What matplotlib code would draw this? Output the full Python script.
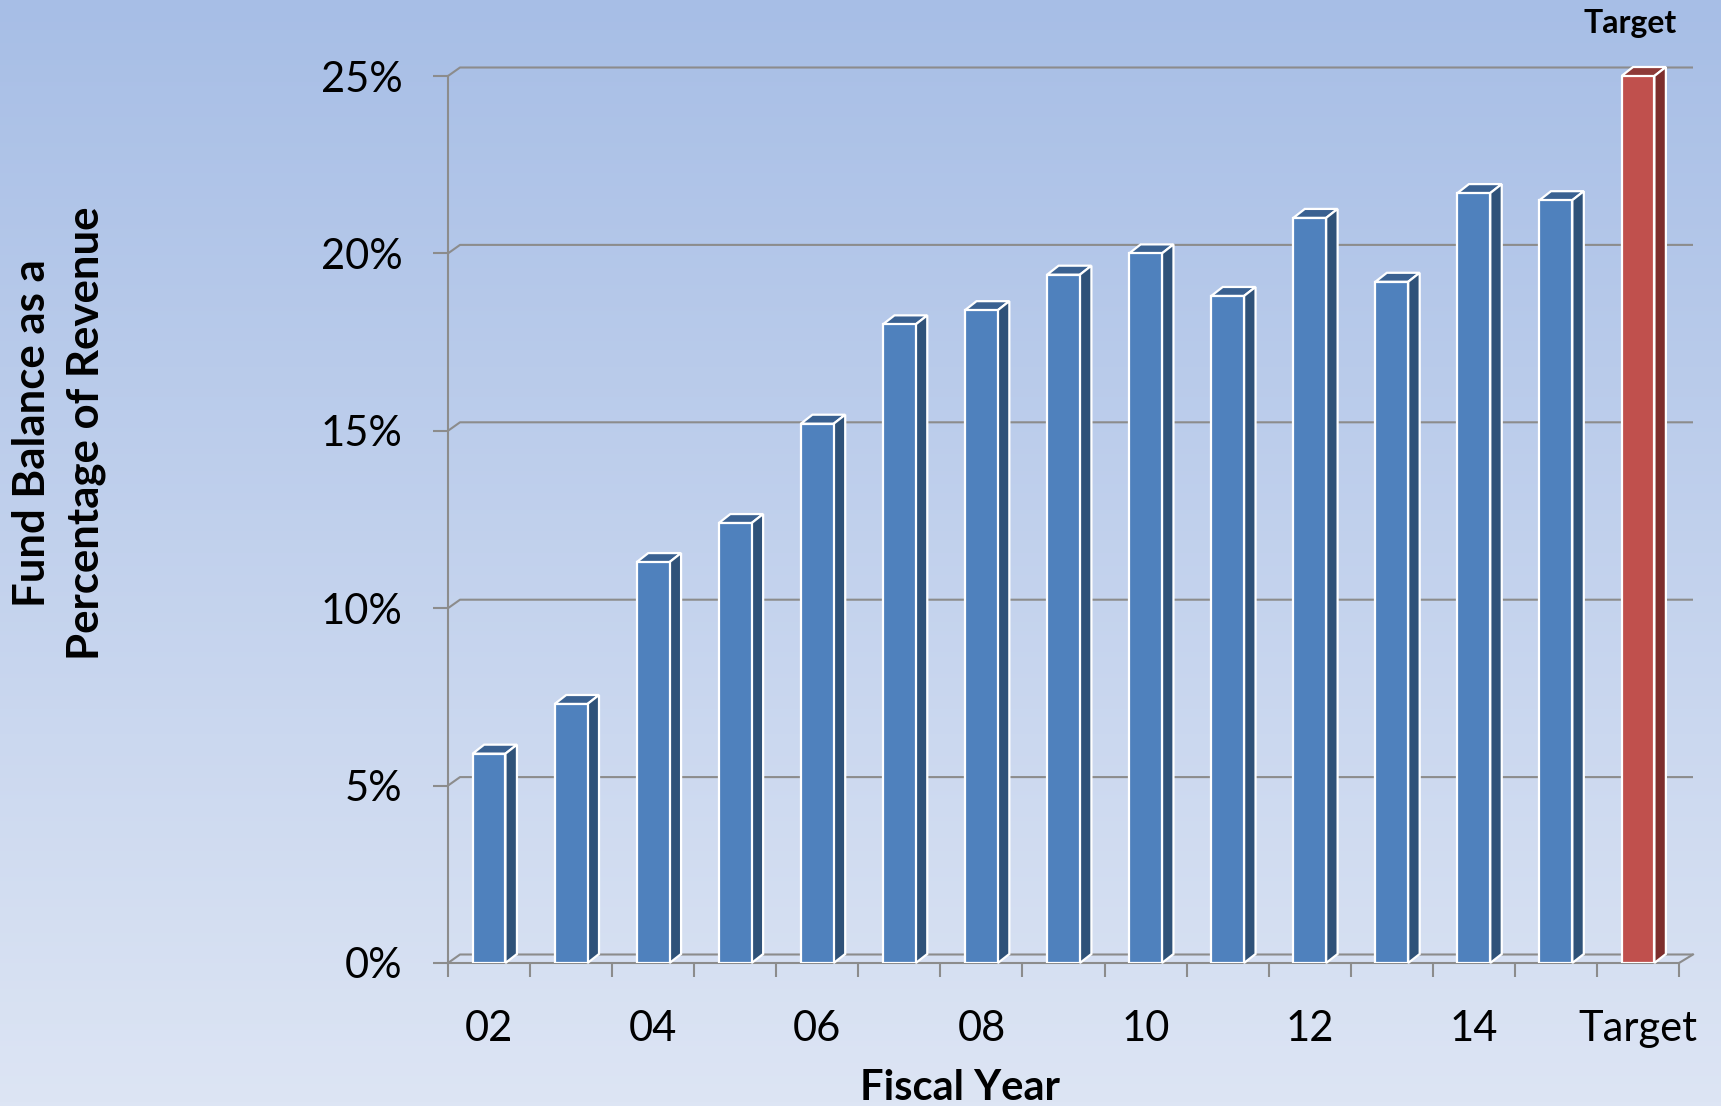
import numpy as np
import matplotlib
matplotlib.use('Agg')
import matplotlib.pyplot as plt
from matplotlib.patches import Polygon
from matplotlib.ticker import FixedLocator, FuncFormatter

# ---- data ----
categories = ['02', '03', '04', '05', '06', '07', '08', '09', '10', '11', '12', '13', '14', '15', 'Target']
values = [5.9, 7.3, 11.3, 12.4, 15.2, 18.0, 18.4, 19.4, 20.0, 18.8, 21.0, 19.2, 21.7, 21.5, 25.0]
is_target = [False] * 14 + [True]
yticks = [0, 5, 10, 15, 20, 25]
shown_xlabels = [c if (i % 2 == 0) else '' for i, c in enumerate(categories)]

plt.rcParams['font.family'] = ['Lato', 'DejaVu Sans']

W, H, DPI = 1721, 1106, 100
fig = plt.figure(figsize=(W / DPI, H / DPI), dpi=DPI)

# background gradient
bg = fig.add_axes([0, 0, 1, 1])
bg.axis('off')
g = np.linspace(0, 1, 256)[:, None, None]
c_top = np.array([167, 190, 230]) / 255
c_bot = np.array([221, 229, 244]) / 255
img = c_top * (1 - g) + c_bot * g
img = np.repeat(img, 2, axis=1)
bg.imshow(img, aspect='auto', extent=[0, 1, 0, 1], origin='upper', zorder=-10)

# main axes (front plane)
axL, axR, axT, axB = 448, 1679, 76, 963
ax = fig.add_axes([axL / W, (H - axB) / H, (axR - axL) / W, (axB - axT) / H])
ax.set_facecolor('none')
n = len(categories)
ax.set_xlim(0, n)
ax.set_ylim(0, 25)

ax_w_px = axR - axL
ax_h_px = axB - axT
px_x = n / ax_w_px
px_y = 25 / ax_h_px

grid_c = '#8c8c8c'
lw = 1.5

# back wall gridlines with diagonal connectors
dxL, dxR, dyW = 12 * px_x, 14 * px_x, 8.5 * px_y
for v in yticks:
    ax.plot([0, dxL, n + dxR], [v, v + dyW, v + dyW], color=grid_c, lw=lw,
            clip_on=False, zorder=1, solid_capstyle='butt')
ax.plot([n, n + dxR], [0, dyW], color=grid_c, lw=lw, clip_on=False, zorder=1)

# bars
front = ['#c0504d' if t else '#4f81bd' for t in is_target]
topc = ['#8e3a38' if t else '#3a6191' for t in is_target]
sidec = ['#7d2e2d' if t else '#2f5279' for t in is_target]
x = np.arange(n) + 0.5
bars = ax.bar(x, values, width=0.40, color=front, edgecolor='white', linewidth=1.6, zorder=4)
bdx, bdy = 11.5 * px_x, 9 * px_y
for rect, tc, sc in zip(bars, topc, sidec):
    x0 = rect.get_x()
    x1 = x0 + rect.get_width()
    h = rect.get_height()
    ax.add_patch(Polygon([(x0, h), (x1, h), (x1 + bdx, h + bdy), (x0 + bdx, h + bdy)],
                         closed=True, facecolor=tc, edgecolor='white', lw=1.6, zorder=3,
                         clip_on=False))
    ax.add_patch(Polygon([(x1, 0), (x1, h), (x1 + bdx, h + bdy), (x1 + bdx, bdy)],
                         closed=True, facecolor=sc, edgecolor='white', lw=1.6, zorder=3,
                         clip_on=False))

# spines & ticks
for s in ['top', 'right']:
    ax.spines[s].set_visible(False)
for s in ['left', 'bottom']:
    ax.spines[s].set_color(grid_c)
    ax.spines[s].set_linewidth(lw)
    ax.spines[s].set_zorder(2)

ax.yaxis.set_major_locator(FixedLocator(yticks))
ax.yaxis.set_major_formatter(FuncFormatter(lambda v, p: f'{v:.0f}%'))
ax.tick_params(axis='y', length=10.8, width=lw, color=grid_c, pad=22, labelsize=30)

ax.xaxis.set_major_locator(FixedLocator(list(x)))
ax.set_xticklabels(shown_xlabels)
ax.xaxis.set_minor_locator(FixedLocator(list(range(n + 1))))
ax.tick_params(axis='x', which='major', length=0, pad=34, labelsize=30)
ax.tick_params(axis='x', which='minor', length=10, width=lw, color=grid_c)

# titles / labels
fig.text(59 / W, 1 - 433 / H, 'Fund Balance as a\nPercentage of Revenue', rotation=90,
         ha='center', va='center', multialignment='center', fontsize=31.5,
         fontweight='bold', linespacing=1.42)
fig.text(960 / W, 1 - 1100 / H, 'Fiscal Year', ha='center', va='baseline',
         fontsize=30, fontweight='bold')
fig.text(1630 / W, 1 - 33 / H, 'Target', ha='center', va='baseline',
         fontsize=23, fontweight='bold')

fig.savefig('out.png', dpi=DPI)
